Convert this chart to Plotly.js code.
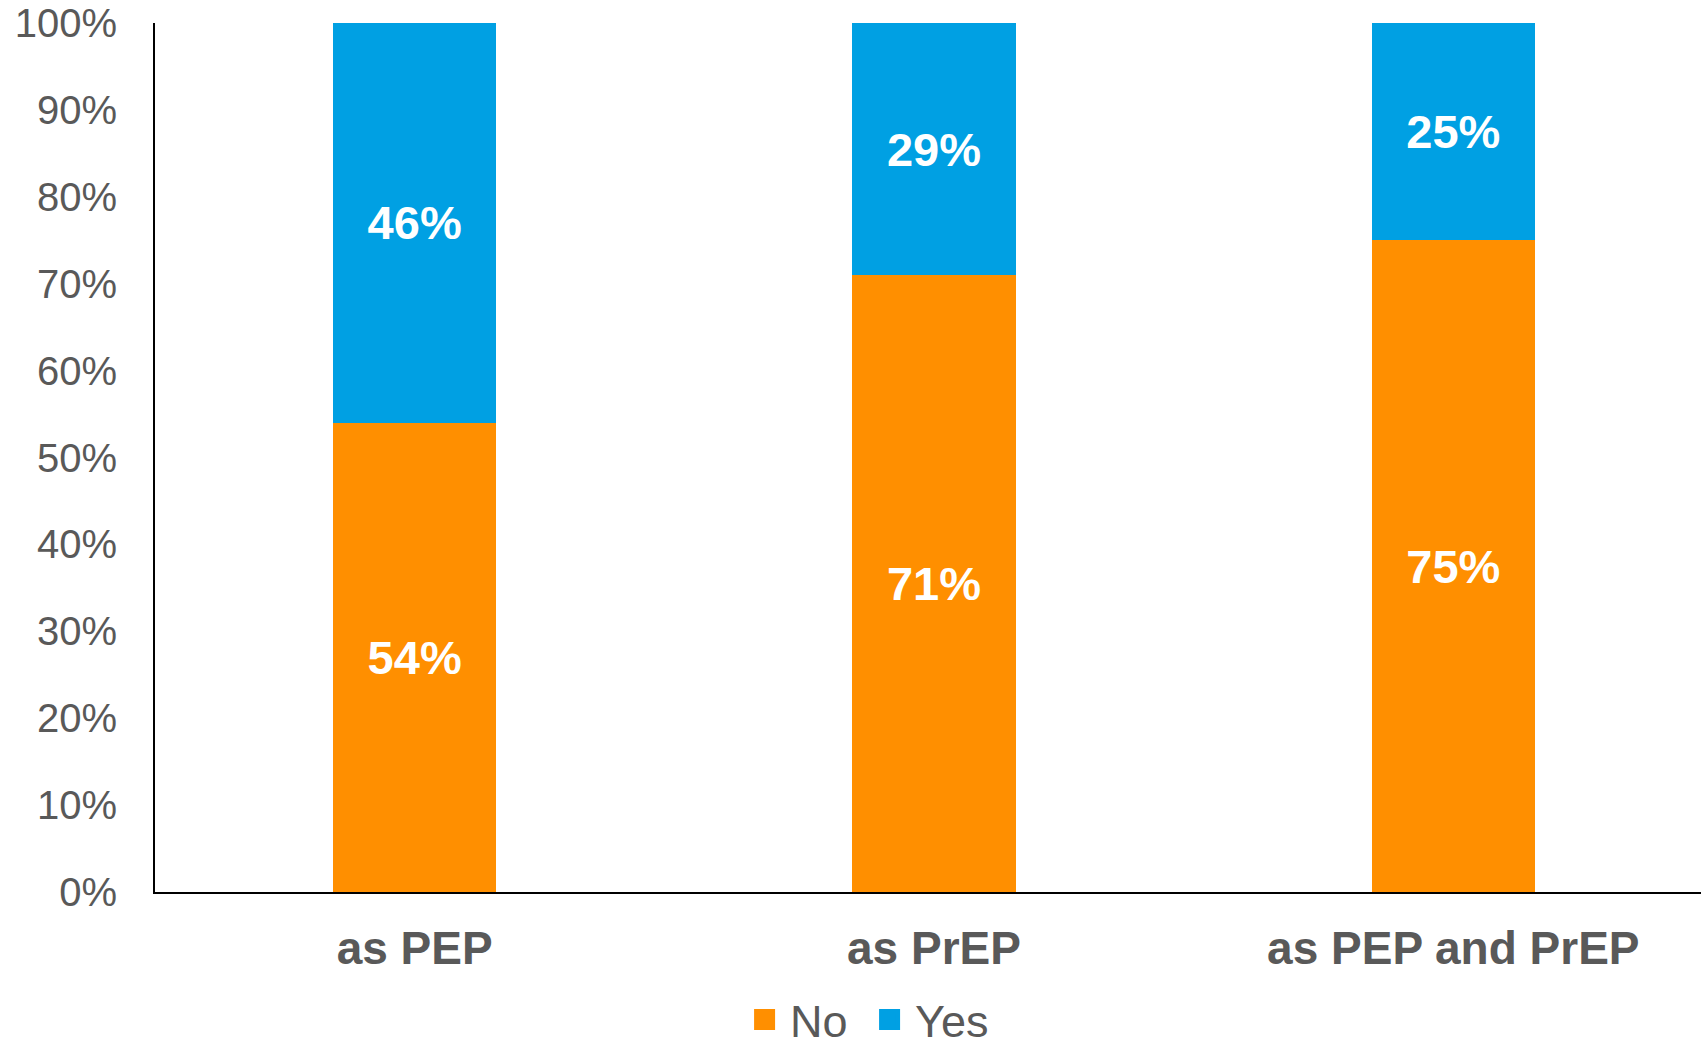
<!DOCTYPE html>
<html>
<head>
<meta charset="utf-8">
<script src="https://cdn.plot.ly/plotly-3.0.1.min.js"></script>
<style>html,body{margin:0;padding:0;background:#fff;}#chart{width:1701px;height:1046px;}</style>
</head>
<body>
<div id="chart"></div>
<script>
const categories = ["as PEP", "as PrEP", "as PEP and PrEP"];
const noValues = [54, 71, 75];
const yesValues = [46, 29, 25];
const seriesNames = ["No", "Yes"];
const yTickVals = [0, 10, 20, 30, 40, 50, 60, 70, 80, 90, 100];
const yTickText = ["0%", "10%", "20%", "30%", "40%", "50%", "60%", "70%", "80%", "90%", "100%"];

const orange = "#FF8F00";
const blue = "#00A0E3";
const fontFam = "Liberation Sans, Arial, sans-serif";

const labelFont = {family: fontFam, size: 47, color: "#ffffff", weight: "bold"};

function pctText(arr) { return arr.map(v => "<b>" + v + "%</b>"); }

const traces = [
  {
    type: "bar", x: categories, y: noValues, name: seriesNames[0],
    marker: {color: orange}, showlegend: false,
    text: pctText(noValues), texttemplate: "%{text}", textposition: "inside", insidetextanchor: "middle",
    textangle: 0, constraintext: "none", textfont: labelFont, hoverinfo: "skip"
  },
  {
    type: "bar", x: categories, y: yesValues, name: seriesNames[1],
    marker: {color: blue}, showlegend: false,
    text: pctText(yesValues), texttemplate: "%{text}", textposition: "inside", insidetextanchor: "middle",
    textangle: 0, constraintext: "none", textfont: labelFont, hoverinfo: "skip"
  },
  {
    type: "scatter", mode: "markers", x: [null], y: [null], name: seriesNames[0],
    marker: {symbol: "square", size: 16, color: orange, line: {color: orange, width: 5}}, showlegend: true
  },
  {
    type: "scatter", mode: "markers", x: [null], y: [null], name: seriesNames[1],
    marker: {symbol: "square", size: 16, color: blue, line: {color: blue, width: 5}}, showlegend: true
  }
];

const layout = {
  width: 1701, height: 1046,
  margin: {l: 155, r: 0, t: 23, b: 154, pad: 0},
  paper_bgcolor: "#ffffff", plot_bgcolor: "#ffffff",
  barmode: "stack", bargap: 0.686,
  font: {family: fontFam, color: "#595959"},
  xaxis: {
    type: "category", range: [-0.5, 2.477],
    showline: true, linecolor: "#000000", linewidth: 2,
    showgrid: false, zeroline: false, ticks: "",
    tickfont: {family: fontFam, size: 46, color: "#595959", weight: "bold"},
    ticklabelstandoff: 15, fixedrange: true
  },
  yaxis: {
    range: [0, 100], tickmode: "array", tickvals: yTickVals, ticktext: yTickText,
    showline: true, linecolor: "#000000", linewidth: 2,
    showgrid: false, zeroline: false, ticks: "",
    tickfont: {family: fontFam, size: 40, color: "#595959"},
    ticklabelstandoff: 28, fixedrange: true
  },
  showlegend: true,
  legend: {
    orientation: "h", traceorder: "normal",
    x: 0.4345, xanchor: "left", xref: "container",
    y: 0.025, yref: "container", yanchor: "middle",
    font: {family: fontFam, size: 45, color: "#595959"},
    itemwidth: 41, entrywidth: 69, tracegroupgap: 0, bgcolor: "rgba(0,0,0,0)"
  }
};

Plotly.newPlot("chart", traces, layout, {staticPlot: true, displayModeBar: false});
</script>
</body>
</html>
